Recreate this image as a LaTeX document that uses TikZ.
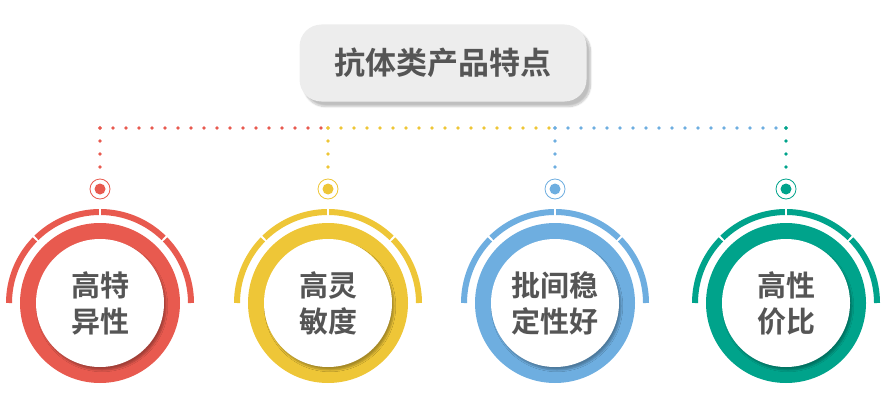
\documentclass[tikz,border=0pt]{standalone}
\usepackage{fontspec}
\newfontfamily\cjk{Noto Sans CJK SC Bold}
\usetikzlibrary{shadows.blur}
\definecolor{cR}{HTML}{E85A4F}
\definecolor{cY}{HTML}{EEC637}
\definecolor{cB}{HTML}{6EAEE0}
\definecolor{cG}{HTML}{00A38B}
\definecolor{tg}{HTML}{555555}
\tikzset{
 dots/.style={line width=3.6pt,line cap=round,dash pattern=on 0pt off 13pt},
 lbl/.style={font=\cjk\fontsize{29}{36}\selectfont,text=tg,align=center},
}
\begin{document}
\begin{tikzpicture}[x=1pt,y=-1pt]
\useasboundingbox (0,0) rectangle (888,404);
\node[fill=black!7,rounded corners=22pt,minimum width=287pt,minimum height=77pt,blur shadow={shadow blur steps=10,shadow xshift=4pt,shadow yshift=-5pt,shadow opacity=25},font=\cjk\fontsize{31}{36}\selectfont,text=tg] (title) at (443,63) {抗体类产品特点};
\foreach \x/\c/\nx/\t [count=\i] in {100/cR/328/{高特\\异性},328/cY/555/{高灵\\敏度},555/cB/785/{批间稳\\定性好},786/cG/786/{高性\\价比}}{
  \coordinate (top\i) at (\x,128);
  \coordinate (nx\i) at (\nx,128);
  \coordinate (dot\i) at (\x,189);
  \coordinate (c\i) at (\x,303);
  \draw[dots,\c] (top\i) -- (nx\i);
  \draw[dots,\c] (top\i) -- (\x,172);
  \draw[\c,line width=0.8pt,fill=white] (dot\i) circle (10pt);
  \fill[\c] (dot\i) circle (5.5pt);
  \foreach \a/\b in {0/44.3,45.7/89.3,90.7/134.3,135.7/180}
    \draw[\c,line width=6pt] ([shift={(\a:91pt)}]c\i) arc[start angle=\a,end angle=\b,radius=91pt];
  \fill[\c] (c\i) circle (80pt);
  \node[circle,fill=white,minimum size=128pt,inner sep=0pt,blur shadow={shadow blur steps=6,shadow xshift=2pt,shadow yshift=-3pt,shadow opacity=30}] (w\i) at (c\i) {};
  \node[lbl] (t\i) at (c\i) {\t};
}
\end{tikzpicture}
\end{document}
